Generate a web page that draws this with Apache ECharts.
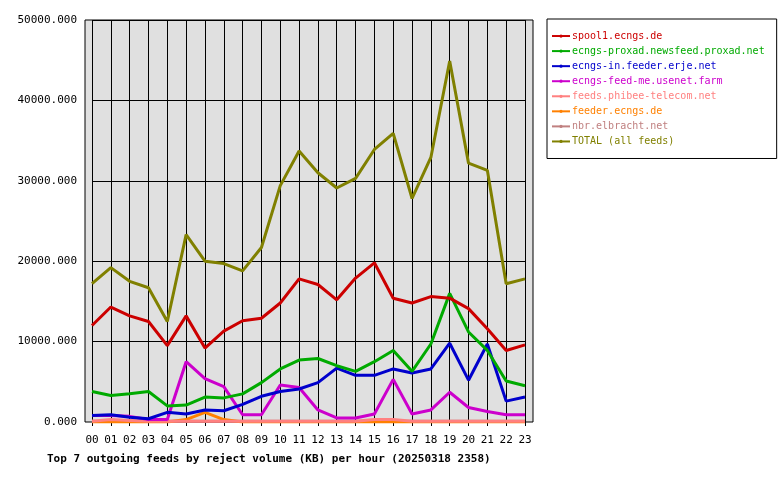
<!DOCTYPE html><html><head><script src="https://cdn.jsdelivr.net/npm/echarts@6/dist/echarts.min.js"></script></head><body style="margin:0;background:#fff"><div id="c" style="width:780px;height:480px"></div><script>
const hours=['00','01','02','03','04','05','06','07','08','09','10','11','12','13','14','15','16','17','18','19','20','21','22','23'];
const spool1=[12000,14300,13200,12500,9500,13200,9200,11300,12600,12900,14800,17800,17100,15200,17900,19800,15400,14800,15600,15400,14100,11600,8900,9600];
const proxad=[3800,3300,3500,3800,2000,2100,3100,3000,3500,4900,6600,7700,7900,7000,6300,7500,8900,6300,9700,16000,11200,8900,5100,4500];
const erje=[800,900,600,400,1200,1000,1500,1400,2200,3200,3800,4100,4900,6700,5800,5800,6600,6100,6600,9800,5200,9700,2600,3100];
const usenet=[800,800,700,300,300,7500,5400,4400,900,900,4600,4300,1500,500,500,1000,5300,1000,1500,3700,1800,1300,900,900];
const phibee=[100,300,200,100,100,100,100,100,100,100,100,100,100,100,100,300,300,100,100,100,100,100,100,100];
const feeder=[0,0,0,0,0,300,1200,300,0,0,0,0,0,0,0,0,0,0,0,0,0,0,0,0];
const nbr=[100,100,100,100,100,100,100,100,100,100,100,100,100,100,100,100,100,100,100,100,100,100,100,100];
const total=[17200,19200,17500,16700,12500,23300,20000,19700,18800,21700,29400,33700,31000,29100,30300,33900,35900,27800,32900,44900,32200,31300,17200,17800];
const names=['spool1.ecngs.de','ecngs-proxad.newsfeed.proxad.net','ecngs-in.feeder.erje.net','ecngs-feed-me.usenet.farm','feeds.phibee-telecom.net','feeder.ecngs.de','nbr.elbracht.net','TOTAL (all feeds)'];
const colors=['#cc0000','#00aa00','#0000cc','#cc00cc','#ff8080','#ff8000','#c08080','#808000'];
const datas=[spool1,proxad,erje,usenet,phibee,feeder,nbr,total];
const F='DejaVu Sans Mono';
const order=[6,5,4,3,2,1,0,7];
const series=order.map(i=>({name:names[i],type:'line',data:datas[i],symbol:'none',lineStyle:{width:3,color:colors[i]},itemStyle:{color:colors[i]},z:i==7?10:5,xAxisIndex:1,yAxisIndex:1}));
const ch=echarts.init(document.getElementById('c'));
ch.setOption({animation:false,
title:{text:'Top 7 outgoing feeds by reject volume (KB) per hour (20250318 2358)',left:42,top:444,textStyle:{fontFamily:F,fontSize:11,fontWeight:'bold',color:'#000'}},
legend:{orient:'vertical',left:547,top:19,width:230,itemWidth:18,itemHeight:4,itemGap:-3,borderColor:'#000',borderWidth:1,padding:[8,12,8,4],
textStyle:{fontFamily:F,fontSize:10,lineHeight:12,height:12,padding:[0,0,0,-3]},
data:names.map((n,i)=>({name:n,textStyle:{color:colors[i]}}))},
grid:[{left:85,right:247,top:20,bottom:58,backgroundColor:'#e0e0e0',show:true,borderColor:'#000',borderWidth:1,z:0},
{left:92,right:255,top:20,bottom:58}],
xAxis:[{gridIndex:0,type:'value',show:false},
{gridIndex:1,type:'category',data:hours,boundaryGap:false,axisLine:{show:false},axisTick:{show:true,length:4,lineStyle:{color:'#000'}},
axisLabel:{fontFamily:F,fontSize:11,color:'#000',interval:0,margin:8},splitLine:{show:true,interval:0,lineStyle:{color:'#000',width:1}}}],
yAxis:[{gridIndex:0,type:'value',show:false},
{gridIndex:1,type:'value',min:0,max:50000,interval:10000,axisLine:{show:false},axisTick:{show:false},
axisLabel:{fontFamily:F,fontSize:11,color:'#000',margin:15,formatter:v=>v.toFixed(3)},splitLine:{lineStyle:{color:'#000',width:1}}}],
series});
</script></body></html>
